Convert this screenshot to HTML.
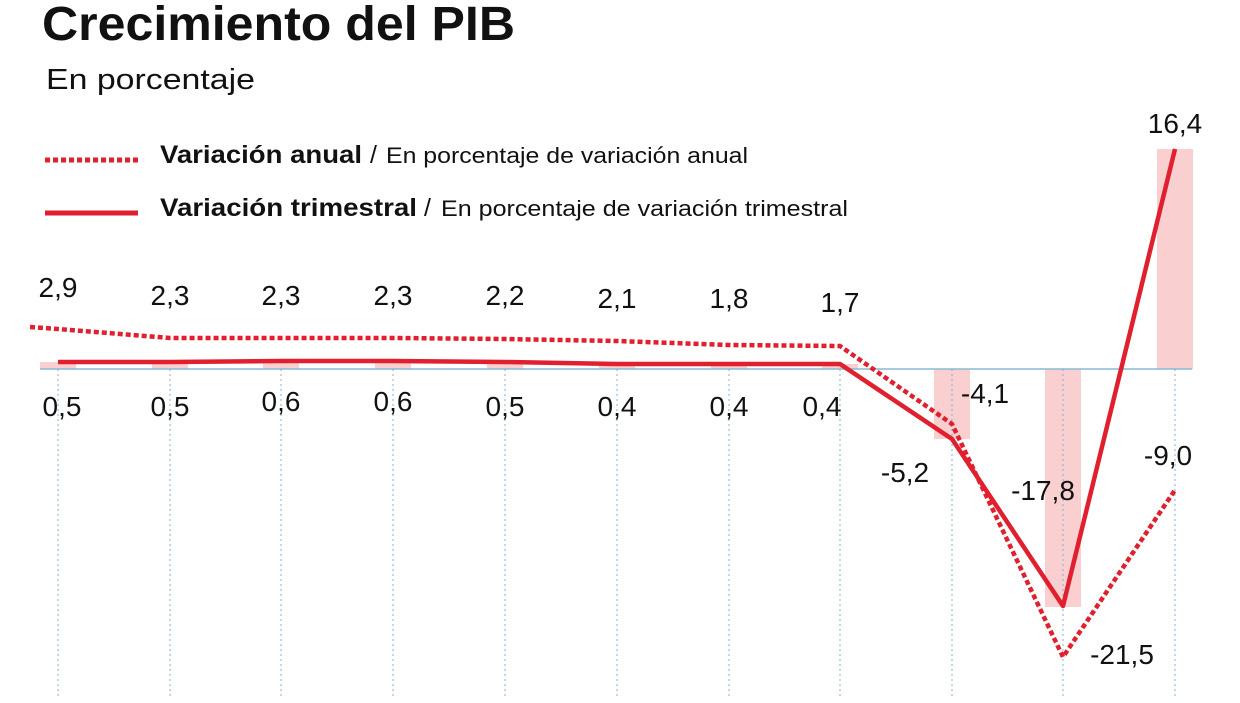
<!DOCTYPE html>
<html><head><meta charset="utf-8"><style>
html,body{margin:0;padding:0;background:#fff;}
body{width:1240px;height:698px;overflow:hidden;font-family:"Liberation Sans",sans-serif;}
</style></head><body>
<svg width="1240" height="698" viewBox="0 0 1240 698" xmlns="http://www.w3.org/2000/svg" font-family="Liberation Sans, sans-serif">
<text x="42" y="40" font-size="48" font-weight="bold" fill="#111" textLength="473" lengthAdjust="spacingAndGlyphs">Crecimiento del PIB</text>
<text x="46" y="89" font-size="29" fill="#111" textLength="209" lengthAdjust="spacingAndGlyphs">En porcentaje</text>
<line x1="45" y1="160" x2="138" y2="160" stroke="#e0202e" stroke-width="5" stroke-dasharray="5,3"/>
<text x="160" y="163" font-size="25" font-weight="bold" fill="#111" textLength="202" lengthAdjust="spacingAndGlyphs">Variación anual</text>
<text x="370" y="163" font-size="25" fill="#111">/</text>
<text x="386" y="163" font-size="22" fill="#111" textLength="362" lengthAdjust="spacingAndGlyphs">En porcentaje de variación anual</text>
<line x1="45" y1="213" x2="138" y2="213" stroke="#e0202e" stroke-width="5"/>
<text x="160" y="216" font-size="25" font-weight="bold" fill="#111" textLength="257" lengthAdjust="spacingAndGlyphs">Variación trimestral</text>
<text x="424" y="216" font-size="25" fill="#111">/</text>
<text x="441" y="216" font-size="22" fill="#111" textLength="407" lengthAdjust="spacingAndGlyphs">En porcentaje de variación trimestral</text>
<g fill="#f9cfcf">
<rect x="40" y="362" width="36" height="7"/><rect x="152" y="362" width="36" height="7"/><rect x="263" y="361" width="36" height="8"/><rect x="375" y="361" width="36" height="8"/><rect x="487" y="362" width="36" height="7"/><rect x="599" y="364" width="36" height="5"/><rect x="711" y="364" width="36" height="5"/><rect x="822" y="364" width="36" height="5"/>
<rect x="934" y="369" width="36" height="70"/><rect x="1045" y="369" width="36" height="238"/><rect x="1157" y="149" width="36" height="220"/>
</g>
<line x1="40" y1="369" x2="1192" y2="369" stroke="#8ab8d6" stroke-width="1.5"/>
<g stroke="#7fb0d8" stroke-width="1" stroke-dasharray="2,3">
<line x1="58" y1="369" x2="58" y2="698"/><line x1="170" y1="369" x2="170" y2="698"/><line x1="281" y1="369" x2="281" y2="698"/><line x1="393" y1="369" x2="393" y2="698"/><line x1="505" y1="369" x2="505" y2="698"/><line x1="617" y1="369" x2="617" y2="698"/><line x1="729" y1="369" x2="729" y2="698"/><line x1="840" y1="369" x2="840" y2="698"/><line x1="952" y1="369" x2="952" y2="698"/><line x1="1063" y1="369" x2="1063" y2="698"/><line x1="1175" y1="369" x2="1175" y2="698"/>
</g>
<polyline fill="none" stroke="#e0202e" stroke-width="4.5" stroke-dasharray="5,3" points="30,327 58,329 170,338 281,338 393,338 505,339 617,341 729,345 840,346 952,424 1063,657 1175,490"/>
<polyline fill="none" stroke="#e0202e" stroke-width="4.5" stroke-linejoin="round" points="58,362 170,362 281,361 393,361 505,362 617,364 729,364 840,364 952,439 1063,606 1175,149"/>
<g font-size="28" fill="#111" text-anchor="middle">
<text x="58" y="297">2,9</text><text x="170" y="305">2,3</text><text x="281" y="305">2,3</text><text x="393" y="305">2,3</text><text x="505" y="305">2,2</text><text x="617" y="308">2,1</text><text x="729" y="308">1,8</text><text x="840" y="312">1,7</text>
<text x="62" y="416">0,5</text><text x="170" y="416">0,5</text><text x="281" y="411">0,6</text><text x="393" y="411">0,6</text><text x="505" y="416">0,5</text><text x="617" y="416">0,4</text><text x="729" y="416">0,4</text><text x="822" y="416">0,4</text>
<text x="985" y="403">-4,1</text><text x="905" y="482">-5,2</text><text x="1043" y="500">-17,8</text><text x="1168" y="465">-9,0</text><text x="1122" y="664">-21,5</text><text x="1175" y="133">16,4</text>
</g>
</svg>
</body></html>
